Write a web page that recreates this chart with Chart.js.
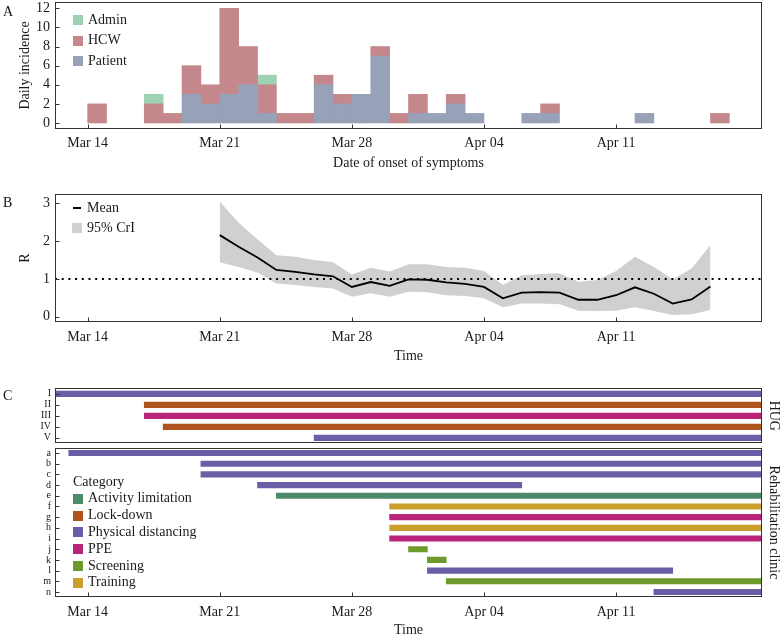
<!DOCTYPE html>
<html>
<head>
<meta charset="utf-8">
<script src="https://cdn.jsdelivr.net/npm/chart.js@4.4.1/dist/chart.umd.min.js"></script>
<style>
body { margin: 0; background: #fff; }
#wrap { position: relative; width: 782px; height: 639px; font-family: 'Liberation Serif', serif; }
canvas { position: absolute; left: 0; }
.tag { position: absolute; left: 3px; font-size: 14px; line-height: 14px; color: #111; }
</style>
</head>
<body>
<div id="wrap">
  <canvas id="chartA" width="782" height="172" style="top:0"></canvas>
  <canvas id="chartB" width="782" height="180" style="top:185px"></canvas>
  <canvas id="chartC1" width="782" height="65" style="top:380px"></canvas>
  <canvas id="chartC2" width="782" height="194" style="top:445px"></canvas>
  <div class="tag" style="top:5px">A</div>
  <div class="tag" style="top:196px">B</div>
  <div class="tag" style="top:389px">C</div>
</div>
<script>
// days counted from Mar 14
const tickDays = [0, 7, 14, 21, 28];
const tickLabels = ['Mar 14', 'Mar 21', 'Mar 28', 'Apr 04', 'Apr 11'];
const dayMin = -1.73, dayMax = 35.73;

// panel A: daily incidence, one value per day from Mar 14 to Apr 17
const patient = [0,0,0,0,0,3,2,3,4,1,0,0,4,2,3,7,0,1,1,2,1,0,0,1,1,0,0,0,0,1,0,0,0,0,0];
const hcw     = [2,0,0,2,1,3,2,9,4,3,1,1,1,1,0,1,1,2,0,1,0,0,0,0,1,0,0,0,0,0,0,0,0,1,0];
const admin   = [0,0,0,1,0,0,0,0,0,1,0,0,0,0,0,0,0,0,0,0,0,0,0,0,0,0,0,0,0,0,0,0,0,0,0];
const incTicks = [0, 2, 4, 6, 8, 10, 12];

// panel B: reproduction number
const rDay  = [7,8,9,10,11,12,13,14,15,16,17,18,19,20,21,22,23,24,25,26,27,28,29,30,31,32,33];
const rMean = [2.16,1.85,1.57,1.24,1.19,1.12,1.07,0.79,0.92,0.82,0.99,0.98,0.91,0.87,0.79,0.49,0.64,0.65,0.64,0.45,0.45,0.57,0.78,0.61,0.35,0.46,0.80];
const rHigh = [3.04,2.49,2.05,1.63,1.59,1.50,1.44,1.12,1.30,1.20,1.39,1.39,1.32,1.30,1.21,0.84,1.10,1.13,1.15,0.93,0.97,1.21,1.59,1.32,0.99,1.28,1.90];
const rLow  = [1.44,1.32,1.17,0.88,0.84,0.79,0.75,0.53,0.62,0.53,0.66,0.65,0.57,0.55,0.49,0.25,0.35,0.35,0.33,0.16,0.15,0.16,0.25,0.15,0.05,0.07,0.18];
const rTicks = [0, 1, 2, 3];
const rThreshold = 1;

// panel C: interventions
const categories = ['Activity limitation', 'Lock-down', 'Physical distancing', 'PPE', 'Screening', 'Training'];
const hugRows  = ['I', 'II', 'III', 'IV', 'V'];
const hugType  = ['Physical distancing', 'Lock-down', 'PPE', 'Lock-down', 'Physical distancing'];
const hugStart = [-3, 3, 3, 4, 12];
const hugEnd   = [36, 36, 36, 36, 36];
const rehabRows  = ['a','b','c','d','e','f','g','h','i','j','k','l','m','n'];
const rehabType  = ['Physical distancing','Physical distancing','Physical distancing','Physical distancing',
                    'Activity limitation','Training','PPE','Training','PPE','Screening','Screening',
                    'Physical distancing','Screening','Physical distancing'];
const rehabStart = [-1, 6, 6, 9, 10, 16, 16, 16, 16, 17, 18, 18, 19, 30];
const rehabEnd   = [36, 36, 36, 23, 36, 36, 36, 36, 36, 18, 19, 31, 36, 36];

const incColors = { Admin: '#9dd3b4', HCW: '#c4878b', Patient: '#97a1b8' };
const catColors = {
  'Activity limitation': '#4b8b6b',
  'Lock-down': '#b0541e',
  'Physical distancing': '#6a5fa6',
  'PPE': '#b8247a',
  'Screening': '#6c9a2b',
  'Training': '#c9a02c'
};
const bandColor = '#d0d0d0';

Chart.defaults.font.family = '"Liberation Serif", serif';
Chart.defaults.font.size = 14;
Chart.defaults.color = '#1a1a1a';
Chart.defaults.animation = false;
Chart.defaults.responsive = false;
Chart.defaults.plugins.legend.display = false;
Chart.defaults.plugins.tooltip.enabled = false;

// box around the plot with short inward ticks
const frame = {
  id: 'frame',
  afterDraw(chart, args, o) {
    const { ctx, chartArea: a } = chart;
    const L = Math.round(a.left) + 0.5, R = Math.round(a.right) - 0.5;
    const T = Math.round(a.top) + 0.5, B = Math.round(a.bottom) - 0.5;
    ctx.save();
    ctx.strokeStyle = '#333';
    ctx.lineWidth = 1;
    ctx.beginPath();
    if (o.xTicks) {
      const x = chart.scales.x;
      x.ticks.forEach((t, i) => {
        const p = Math.round(x.getPixelForTick(i)) + 0.5;
        ctx.moveTo(p, B); ctx.lineTo(p, B - 4);
      });
    }
    const y = chart.scales.y;
    y.ticks.forEach((t, i) => {
      const p = Math.round(y.getPixelForTick(i)) + 0.5;
      ctx.moveTo(L, p); ctx.lineTo(L + 4, p);
    });
    ctx.stroke();
    ctx.strokeRect(L, T, R - L, B - T);
    ctx.restore();
  }
};

// legend drawn inside the plot area
const boxLegend = {
  id: 'boxLegend',
  afterDraw(chart, args, o) {
    if (!o.entries) return;
    const { ctx, chartArea: a } = chart;
    ctx.save();
    ctx.font = '14px "Liberation Serif"';
    ctx.textBaseline = 'middle';
    let y = a.top + o.top;
    const x = a.left + o.left;
    if (o.title) {
      ctx.fillStyle = '#1a1a1a';
      ctx.fillText(o.title, x, y);
      y += o.step;
    }
    o.entries.forEach(e => {
      ctx.fillStyle = e.color;
      if (e.kind === 'line') ctx.fillRect(x + 1, Math.round(y) - 1, 8, 2);
      else ctx.fillRect(x, Math.round(y) - 5, 10, 10);
      ctx.fillStyle = '#1a1a1a';
      ctx.fillText(e.text, x + 15, y);
      y += o.step;
    });
    ctx.restore();
  }
};

// stop chart.js from pushing the plot inward to make room for end labels
const noEdgePad = s => { s.paddingTop = 0; s.paddingBottom = 0; s.paddingLeft = 0; s.paddingRight = 0; };

function timeAxis(title, height, tickPad, titlePad, show) {
  return {
    type: 'linear', min: dayMin, max: dayMax, offset: false, display: show,
    grid: { display: false, drawTicks: false }, border: { display: false },
    afterBuildTicks: s => { s.ticks = tickDays.map(v => ({ value: v })); },
    afterFit: s => { s.height = height; noEdgePad(s); },
    ticks: { padding: tickPad, autoSkip: false, maxRotation: 0, callback: v => tickLabels[tickDays.indexOf(v)] },
    title: { display: !!title, text: title, padding: { top: 0, bottom: titlePad } }
  };
}

function valueAxis(min, max, ticks, title) {
  return {
    type: 'linear', min: min, max: max,
    grid: { display: false, drawTicks: false }, border: { display: false },
    afterBuildTicks: s => { s.ticks = ticks.map(v => ({ value: v })); },
    afterFit: s => { s.width = 55; noEdgePad(s); },
    ticks: { padding: 5 },
    title: { display: true, text: title, padding: { top: 16.5, bottom: 0 } }
  };
}

function sideAxis(title) {
  return {
    type: 'linear', position: 'right',
    grid: { display: false, drawTicks: false }, border: { display: false },
    ticks: { display: false },
    afterFit: s => { s.width = 20; noEdgePad(s); },
    title: { display: true, text: title, padding: { top: 0, bottom: 0 } }
  };
}

// ---- A ----
const perDay = arr => arr.map((v, d) => ({ x: d + 0.5, y: v || null }));
const incSets = [
  { label: 'Patient', data: perDay(patient), backgroundColor: incColors.Patient },
  { label: 'HCW', data: perDay(hcw), backgroundColor: incColors.HCW },
  { label: 'Admin', data: perDay(admin), backgroundColor: incColors.Admin }
];
new Chart(document.getElementById('chartA'), {
  type: 'bar',
  data: { datasets: incSets },
  options: {
    layout: { padding: { top: 2, right: 20, left: 0, bottom: 0 } },
    datasets: { bar: { barPercentage: 1, categoryPercentage: 1, borderWidth: 0 } },
    scales: {
      x: Object.assign(timeAxis('Date of onset of symptoms', 43, 6, 0, true), { stacked: true }),
      y: Object.assign(valueAxis(-0.63, 12.66, incTicks, 'Daily incidence'), { stacked: true })
    },
    plugins: {
      frame: { xTicks: true },
      boxLegend: {
        left: 18, top: 18, step: 20.7,
        entries: incSets.slice().reverse().map(d => ({ text: d.label, color: d.backgroundColor, kind: 'box' }))
      }
    }
  },
  plugins: [frame, boxLegend]
});

// ---- B ----
const pts = vals => rDay.map((d, i) => ({ x: d, y: vals[i] }));
new Chart(document.getElementById('chartB'), {
  type: 'line',
  data: {
    datasets: [
      { label: 'Mean', data: pts(rMean), borderColor: '#000', borderWidth: 1.8, pointRadius: 0, fill: false },
      { label: 'threshold', data: [{ x: dayMin, y: rThreshold }, { x: dayMax, y: rThreshold }],
        borderColor: '#000', borderWidth: 2, borderDash: [2, 4.7], pointRadius: 0, fill: false },
      { label: '95% CrI', data: pts(rHigh), borderWidth: 0, pointRadius: 0, backgroundColor: bandColor, fill: '+1' },
      { label: 'low', data: pts(rLow), borderWidth: 0, pointRadius: 0, fill: false }
    ]
  },
  options: {
    layout: { padding: { top: 9.3, right: 20, left: 0, bottom: 0 } },
    scales: {
      x: timeAxis('Time', 43.3, 6.9, 0, true),
      y: valueAxis(-0.13, 3.24, rTicks, 'R')
    },
    plugins: {
      frame: { xTicks: true },
      boxLegend: {
        left: 17, top: 13.7, step: 20,
        entries: [{ text: 'Mean', color: '#000', kind: 'line' }, { text: '95% CrI', color: bandColor, kind: 'box' }]
      }
    }
  },
  plugins: [frame, boxLegend]
});

// ---- C ----
function interventionSets(types, starts, ends) {
  return categories
    .filter(c => types.includes(c))
    .map(c => ({
      label: c,
      data: types.map((t, i) => t === c ? [starts[i], ends[i]] : null),
      backgroundColor: catColors[c]
    }));
}

function rowAxis() {
  return {
    type: 'category',
    grid: { display: false, drawTicks: false }, border: { display: false },
    afterFit: s => { s.width = 55; noEdgePad(s); },
    ticks: { padding: 4, font: { size: 10 }, autoSkip: false }
  };
}

new Chart(document.getElementById('chartC1'), {
  type: 'bar',
  data: { labels: hugRows, datasets: interventionSets(hugType, hugStart, hugEnd) },
  options: {
    indexAxis: 'y',
    layout: { padding: { top: 8.3, right: 0, left: 0, bottom: 1.7 } },
    datasets: { bar: { grouped: false, barThickness: 5.5, borderWidth: 0 } },
    scales: {
      x: timeAxis('', 0, 0, 0, false),
      y: rowAxis(),
      side: sideAxis('HUG')
    },
    plugins: { frame: { xTicks: false } }
  },
  plugins: [frame]
});

new Chart(document.getElementById('chartC2'), {
  type: 'bar',
  data: { labels: rehabRows, datasets: interventionSets(rehabType, rehabStart, rehabEnd) },
  options: {
    indexAxis: 'y',
    layout: { padding: { top: 2.7, right: 0, left: 0, bottom: 0 } },
    datasets: { bar: { grouped: false, barThickness: 5.5, borderWidth: 0 } },
    scales: {
      x: timeAxis('Time', 41.7, 6.3, 0, true),
      y: rowAxis(),
      side: sideAxis('Rehabilitation clinic')
    },
    plugins: {
      frame: { xTicks: true },
      boxLegend: {
        left: 18, top: 34.3, step: 16.8, title: 'Category',
        entries: categories.map(c => ({ text: c, color: catColors[c], kind: 'box' }))
      }
    }
  },
  plugins: [frame, boxLegend]
});
</script>
</body>
</html>
